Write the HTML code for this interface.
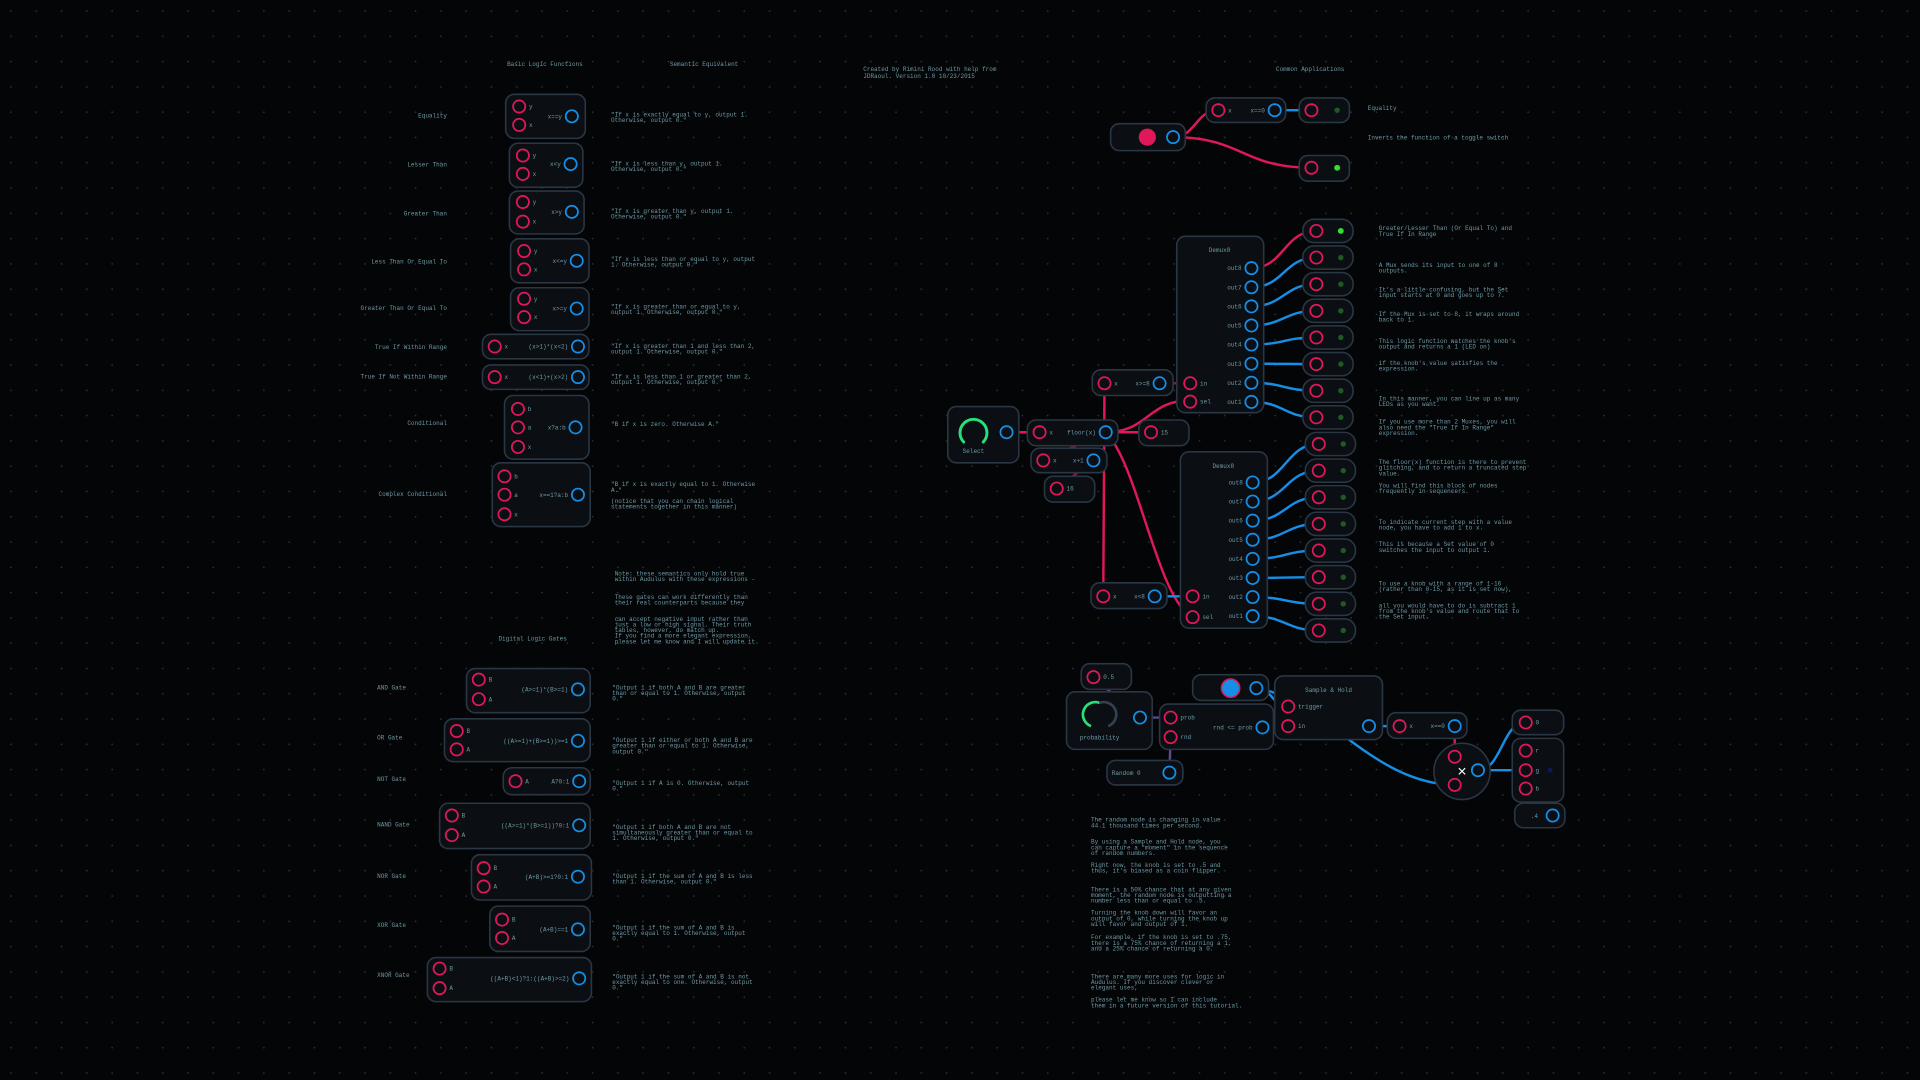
<!DOCTYPE html>
<html><head><meta charset="utf-8">
<style>
html,body{margin:0;padding:0;background:#040507;width:1920px;height:1080px;overflow:hidden}
svg{display:block}
text{font-family:"Liberation Mono",monospace;fill:#6f9aa6;font-size:4.9px}
</style></head>
<body>
<svg id="s" width="1920" height="1080" viewBox="0 0 1568 882" xmlns="http://www.w3.org/2000/svg">
<defs>
<pattern id="dots" x="0" y="0" width="20.65" height="20.65" patternUnits="userSpaceOnUse">
<circle cx="9" cy="9" r="0.7" fill="#2a323c"/>
</pattern>
</defs>
<rect width="1568" height="882" fill="#040507"/>
<rect width="1568" height="882" fill="url(#dots)"/>
<g id="wires"></g>
<g id="nodes"></g>
<g id="texts"></g>
</svg>
<script>
const NS="http://www.w3.org/2000/svg";
const W=document.getElementById('wires'),N=document.getElementById('nodes'),T=document.getElementById('texts');
const RED="#e0185a",BLUE="#168ee6",PURP="#5b4a8a";
function el(tag,attrs,parent){const e=document.createElementNS(NS,tag);for(const k in attrs)e.setAttribute(k,attrs[k]);parent.appendChild(e);return e;}
function txt(x,y,s,parent,anchor,name,lh){
  const lines=String(s).split('\n');
  let last=null;
  lines.forEach((l,i)=>{const t=el('text',{x:x,y:y+i*(lh||5.6),'text-anchor':anchor||'start'},parent);t.textContent=l;
  
  last=t;});
  return last;
}
function box(x,y,w,h,name,rx){const r=el('rect',{x:x,y:y,width:w,height:h,rx:rx||7,fill:"#0b0f14",stroke:"#2b3644","stroke-width":1.3},N);
  
  }
function inp(cx,cy,label,name){const c=el('circle',{cx:cx,cy:cy,r:5,fill:"#0b0f14",stroke:RED,"stroke-width":1.4},N);
  
  
  if(label)txt(cx+8,cy+1.7,label,N,'start','port-label');}
function out(cx,cy,label,name){const c=el('circle',{cx:cx,cy:cy,r:5,fill:"#0b0f14",stroke:BLUE,"stroke-width":1.4},N);
  
  
  if(label)txt(cx-8,cy+1.7,label,N,'end','expression-label');}
function wire(x1,y1,x2,y2,col,name,straight){
  let d;if(straight)d=`M${x1},${y1}L${x2},${y2}`;else{const dx=Math.max(Math.abs(x2-x1)*0.5,10);d=`M${x1},${y1}C${x1+dx},${y1} ${x2-dx},${y2} ${x2},${y2}`;}
  const p=el('path',{d:d,stroke:col,"stroke-width":2,fill:"none","stroke-linecap":"round"},W);
  
  }

txt(445,54,"Basic Logic Functions",T,'middle','basic-logic-header');
txt(575,54,"Semantic Equivalent",T,'middle','semantic-header');
txt(705,58,"Created by Rimini Rood with help from\nJDRaoul.  Version 1.0  10/23/2015",T,'start','credits');
txt(1070,58,"Common Applications",T,'middle','common-applications-header');
txt(435,523,"Digital Logic Gates",T,'middle','digital-gates-header');

const basic=[
["Equality",96,413,77,65,36,[["y",424,87],["x",424,102]],467,95,"x==y","\"If x is exactly equal to y, output 1.\nOtherwise, output 0.\"",95],
["Lesser Than",136,416,117,60,36,[["y",427,127],["x",427,142]],466,134,"x<y","\"If x is less than y, output 1.\nOtherwise, output 0.\"",135],
["Greater Than",176,416,156,61,35,[["y",427,165],["x",427,181]],467,173,"x>y","\"If x is greater than y, output 1.\nOtherwise, output 0.\"",174],
["Less Than Or Equal To",215,417,195,64,36,[["y",428,205],["x",428,220]],471,213,"x<=y","\"If x is less than or equal to y, output\n1.  Otherwise, output 0.\"",213],
["Greater Than Or Equal To",253,417,235,64,35,[["y",428,244],["x",428,259]],471,252,"x>=y","\"If x is greater than or equal to y,\noutput 1.  Otherwise, output 0.\"",252],
["True If Within Range",285,394,273,87,20,[["x",404,283]],472,283,"(x>1)*(x<2)","\"If x is greater than 1 and less than 2,\noutput 1.  Otherwise, output 0.\"",284],
["True If Not Within Range",309,394,298,87,20,[["x",404,308]],472,308,"(x<1)+(x>2)","\"If x is less than 1 or greater than 2,\noutput 1.  Otherwise, output 0.\"",309],
["Conditional",347,412,323,69,52,[["b",423,334],["a",423,349],["x",423,365]],470,349,"x?a:b","\"B if x is zero.  Otherwise A.\"",348],
["Complex Conditional",405,402,378,80,52,[["b",412,389],["a",412,404],["x",412,420]],472,404,"x==1?a:b","\"B if x is exactly equal to 1.  Otherwise\nA.\"\n\n(notice that you can chain logical\nstatements together in this manner)",397],
];
basic.forEach(b=>{
  txt(365,b[1],b[0],T,'end','function-name');
  box(b[2],b[3],b[4],b[5],'logic-node');
  b[6].forEach(p=>inp(p[1],p[2],p[0]));
  out(b[7],b[8],b[9]);
  txt(499,b[11],b[10],T,'start','function-description',4.6);
});

const gates=[
["AND Gate",563,381,546,101,36,[["B",391,555],["A",391,571]],472,563,"(A>=1)*(B>=1)","\"Output 1 if both A and B are greater\nthan or equal to 1.  Otherwise, output\n0.\"",563],
["OR Gate",604,363,587,119,35,[["B",373,597],["A",373,612]],472,605,"((A>=1)+(B>=1))>=1","\"Output 1 if either or both A and B are\ngreater than or equal to 1.  Otherwise,\noutput 0.\"",606],
["NOT Gate",638,411,627,71,22,[["A",421,638]],473,638,"A?0:1","\"Output 1 if A is 0.  Otherwise, output\n0.\"",641],
["NAND Gate",675,359,656,123,37,[["B",369,666],["A",369,682]],473,674,"((A>=1)*(B>=1))?0:1","\"Output 1 if both A and B are not\nsimultaneously greater than or equal to\n1.  Otherwise, output 0.\"",677],
["NOR Gate",717,385,698,98,37,[["B",395,709],["A",395,724]],472,716,"(A+B)>=1?0:1","\"Output 1 if the sum of A and B is less\nthan 1.  Otherwise, output 0.\"",717],
["XOR Gate",757,400,740,82,37,[["B",410,751],["A",410,766]],472,759,"(A+B)==1","\"Output 1 if the sum of A and B is\nexactly equal to 1.  Otherwise, output\n0.\"",759],
["XNOR Gate",798,349,782,134,36,[["B",359,791],["A",359,807]],473,799,"((A+B)<1)?1:((A+B)>=2)","\"Output 1 if the sum of A and B is not\nexactly equal to one.  Otherwise, output\n0.\"",799],
];
gates.forEach(b=>{
  txt(308,b[1],b[0],T,'start','gate-name');
  box(b[2],b[3],b[4],b[5],'gate-node');
  b[6].forEach(p=>inp(p[1],p[2],p[0]));
  out(b[7],b[8],b[9]);
  txt(500,b[11],b[10],T,'start','gate-description',4.6);
});

txt(502,470,"Note: these semantics only hold true\nwithin Audulus with these expressions -",T,'start','note',4.6);
txt(502,489,"These gates can work differently than\ntheir real counterparts because they",T,'start','note',4.6);
txt(502,507,"can accept negative input rather than\njust a low or high signal.  Their truth\ntables, however, do match up.\nIf you find a more elegant expression,\nplease let me know and I will update it.",T,'start','note',4.6);

wire(958,112,995,90,RED,'toggle-to-equality');
wire(958,112,1071,137,RED,'toggle-to-led');
wire(1041,90,1071,90,BLUE,'equality-to-led');
box(907,101,61,22,'toggle-node');
el('circle',{cx:937,cy:112,r:7,fill:RED},N);
out(958,112);
box(985,80,65,20,'equality-node');inp(995,90,"x");out(1041,90,"x==0");
box(1061,80,41,20,'led-node');inp(1071,90);el('circle',{cx:1092,cy:90,r:2.2,fill:"#1f5a25"},N);
box(1061,127,41,21,'led-node');inp(1071,137);el('circle',{cx:1092,cy:137,r:2.4,fill:"#2fe02f"},N);
txt(1117,90,"Equality",T,'start','note');
txt(1117,114,"Inverts the function of a toggle switch",T,'start','note');

const outNames=["out8","out7","out6","out5","out4","out3","out2","out1"];
const ledOn=[1,0,0,0,0,0,0,0,0,0,0,0,0,0,0,0];
const topOutY=219,botOutY=394,step=15.6;
const ledY0=188.6,ledStep=21.75;
wire(822,353,849,353,RED,'select-to-floor');
wire(903,353,940,353,RED,'floor-to-15');
wire(902,313,901,487,RED,'vertical-bus',true);
wire(903,353,972,327,RED,'floor-to-demux-sel');
el('path',{d:"M903,353 C930,380 945,490 974,504",stroke:RED,"stroke-width":2,fill:"none"},W);
wire(903,353,852,376,"#8a1a44",'floor-to-xplus1',true);
wire(893,376,863,399,"#8a1a44",'xplus1-to-16',true);
wire(947,313,972,313,"#8a1a44",'gte8-to-demux');
wire(943,487,974,487,BLUE,'lt8-to-demux');
for(let i=0;i<16;i++){
  const oy=i<8?topOutY+i*step:botOutY+(i-8)*step;
  const ox=i<8?1022:1023;
  const lx=i<8?1075:1077;
  wire(ox,oy,lx,ledY0+i*ledStep,i===0?RED:BLUE,'demux-to-led');
}
box(774,332,58,46,'select-knob-node');
el('path',{d:"M787,361 A11,11 0 1 1 803,361",stroke:"#26e07a","stroke-width":2.4,fill:"none","stroke-linecap":"round"},N);
txt(795,370,"Select",N,'middle','knob-label');
out(822,353);
box(839,343,74,21,'floor-node');inp(849,353,"x");out(903,353,"floor(x)");
box(842,366,62,20,'xplus1-node');inp(852,376,"x");out(893,376,"x+1");
box(853,389,41,21,'value-16-node');inp(863,399,"16");
box(930,343,41,21,'value-15-node');inp(940,353,"15");
box(892,302,66,21,'gte8-node');inp(902,313,"x");out(947,313,"x>=8");
box(891,476,62,21,'lt8-node');inp(901,487,"x");out(943,487,"x<8");
box(961,193,71,144,'demux8-top');txt(996,206,"Demux8",N,'middle','node-title');
inp(972,313,"in");inp(972,328,"sel");
outNames.forEach((n,i)=>out(1022,topOutY+i*step,n));
box(964,369,71,144,'demux8-bottom');txt(999,382,"Demux8",N,'middle','node-title');
inp(974,487,"in");inp(974,504,"sel");
outNames.forEach((n,i)=>out(1023,botOutY+i*step,n));
for(let i=0;i<16;i++){
  const y=ledY0+i*ledStep,x0=i<8?1064:1066;
  box(x0,y-9.5,41,19,'led-node',9);
  inp(x0+11,y);
  const d=el('circle',{cx:x0+31,cy:y,r:ledOn[i]?2.4:2.2,fill:ledOn[i]?"#2fe02f":"#1f5a25"},N);
  
  
}
const rightNotes=[
[188,"Greater/Lesser Than (Or Equal To) and\nTrue If In Range"],
[218,"A Mux sends its input to one of 8\noutputs."],
[238,"It's a little confusing, but the Set\ninput starts at 0 and goes up to 7."],
[258,"If the Mux is set to 8, it wraps around\nback to 1."],
[280,"This logic function watches the knob's\noutput and returns a 1 (LED on)"],
[298,"if the knob's value satisfies the\nexpression."],
[327,"In this manner, you can line up as many\nLEDs as you want."],
[346,"If you use more than 2 Muxes, you will\nalso need the \"True If In Range\"\nexpression."],
[379,"The floor(x) function is there to prevent\nglitching, and to return a truncated step\nvalue."],
[398,"You will find this block of nodes\nfrequently in sequencers."],
[428,"To indicate current step with a value\nnode, you have to add 1 to x."],
[446,"This is because a Set value of 0\nswitches the input to output 1."],
[478,"To use a knob with a range of 1-16\n(rather than 0-15, as it is set now),"],
[496,"all you would have to do is subtract 1\nfrom the knob's value and route that to\nthe Set input."],
];
rightNotes.forEach(n=>txt(1126,n[0],n[1],T,'start','explanation',4.6));

wire(893,553,931,586,PURP,'half-to-knob',true);
wire(931,586,956,586,PURP,'knob-to-prob');
wire(956,602,955,631,PURP,'rnd-to-random',true);
wire(1031,594,1052,593,PURP,'prob-to-sh');
wire(1026,562,1052,577,BLUE,'toggle-to-trigger');
el('path',{d:"M1026,562 C1080,570 1120,640 1188,641",stroke:BLUE,"stroke-width":2,fill:"none"},W);
wire(1118,593,1143,593,BLUE,'sh-to-eq');
wire(1188,593,1188,618,RED,'eq-to-mult',true);
wire(1207,629,1246,590,BLUE,'mult-to-zero');
wire(1207,629,1246,629,BLUE,'mult-to-g',true);
wire(1268,666,1246,644,PURP,'point4-to-b',true);
box(883,542,41,21,'value-half-node');inp(893,553,"0.5");
box(871,565,70,47,'probability-knob-node');
el('path',{d:"M891,593 A10,10 0 0 1 898,574",stroke:"#26e07a","stroke-width":2.2,fill:"none"},N);
el('path',{d:"M898,574 A10,10 0 0 1 905,593",stroke:"#334050","stroke-width":2.2,fill:"none"},N);
txt(898,604,"probability",N,'middle','knob-label');
out(931,586);
box(904,621,62,20,'random-node');txt(908,633,"Random  0",N,'start','node-title');out(955,631);
box(947,575,93,37,'probability-compare-node');inp(956,586,"prob");inp(956,602,"rnd");out(1031,594,"rnd <= prob");
box(974,551,62,21,'toggle-node');el('circle',{cx:1005,cy:562,r:7.5,fill:BLUE,stroke:RED,"stroke-width":1.2},N);out(1026,562);
box(1041,552,88,52,'sample-hold-node');txt(1085,565,"Sample & Hold",N,'middle','node-title');
inp(1052,577,"trigger");inp(1052,593,"in");out(1118,593);
box(1133,582,65,21,'equals-zero-node');inp(1143,593,"x");out(1188,593,"x==0");
el('circle',{cx:1194,cy:630,r:23,fill:"#0b0f14",stroke:"#2b3644","stroke-width":1.3},N);
inp(1188,618);inp(1188,641);out(1207,629);
const mx=txt(1194,634,"×",N,'middle','multiply-symbol');
mx.setAttribute('style','font-size:13px;fill:#fff;font-family:"Liberation Sans",sans-serif');
box(1235,580,42,20,'value-zero-node');inp(1246,590,"0");
box(1235,603,42,52,'rgb-node');inp(1246,613,"r");inp(1246,629,"g");inp(1246,644,"b");
el('circle',{cx:1266,cy:629,r:2,fill:"#0a1860"},N);
box(1237,656,41,20,'value-point4-node');txt(1256,668,".4",N,'end','value');out(1268,666);

const botNotes=[
[671,"The random node is changing in value\n44.1 thousand times per second."],
[689,"By using a Sample and Hold node, you\ncan capture a \"moment\" in the sequence\nof random numbers."],
[708,"Right now, the knob is set to .5 and\nthus, it's biased as a coin flipper."],
[728,"There is a 50% chance that at any given\nmoment, the random node is outputting a\nnumber less than or equal to .5."],
[747,"Turning the knob down will favor an\noutput of 0, while turning the knob up\nwill favor and output of 1."],
[767,"For example, if the knob is set to .75,\nthere is a 75% chance of returning a 1,\nand a 25% chance of returning a 0."],
[799,"There are many more uses for logic in\nAudulus.  If you discover clever or\nelegant uses,"],
[818,"please let me know so I can include\nthem in a future version of this tutorial."],
];
botNotes.forEach(n=>txt(891,n[0],n[1],T,'start','explanation',4.6));
</script>
</body></html>
